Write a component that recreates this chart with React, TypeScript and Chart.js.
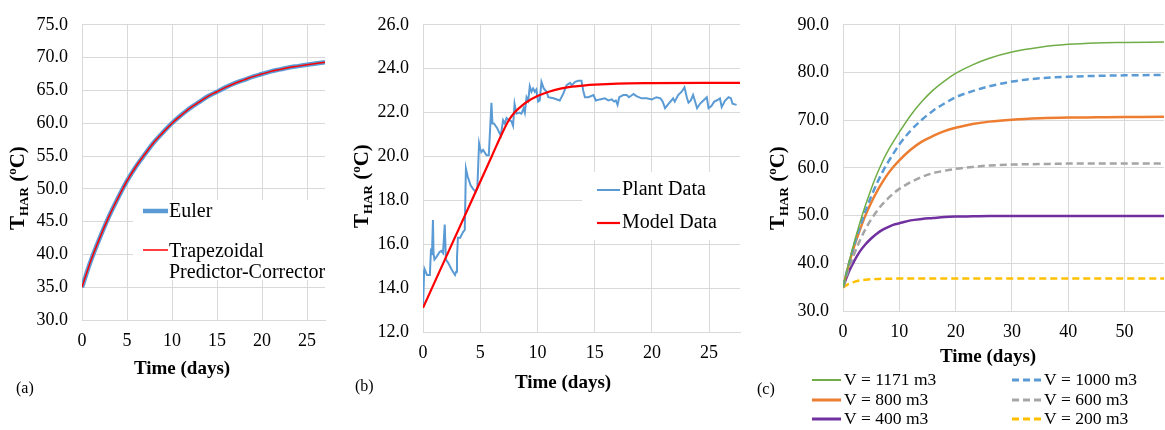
import React, { useEffect, useRef } from "react";
import { Chart, registerables } from "chart.js";

Chart.register(...registerables);

const FONT = '"Liberation Serif", "Times New Roman", Times, serif';
const GRID = "#D9D9D9";

// ---------- Panel (a) ----------
const timeA = [0, 1, 2, 3, 4, 5, 6, 7, 8, 9, 10, 11, 12, 13, 14, 15, 16, 17, 18, 19, 20, 21, 22, 23, 24, 25, 26, 27];
const eulerA = [35.0, 39.1, 42.6, 45.8, 48.6, 51.2, 53.4, 55.3, 57.1, 58.6, 60.0, 61.2, 62.3, 63.2, 64.1, 64.8, 65.5, 66.1, 66.6, 67.1, 67.5, 67.9, 68.2, 68.5, 68.7, 68.9, 69.1, 69.3];
const trapA = [35.0, 39.1, 42.6, 45.8, 48.6, 51.2, 53.4, 55.3, 57.1, 58.6, 60.0, 61.2, 62.3, 63.2, 64.1, 64.8, 65.5, 66.1, 66.6, 67.1, 67.5, 67.9, 68.2, 68.5, 68.7, 68.9, 69.1, 69.3];
const legendA = ["Euler", "Trapezoidal", "Predictor-Corrector"];

// ---------- Panel (b) ----------
const plantT = [
  0, 0.1, 0.15, 0.35, 0.6, 0.7, 0.78, 0.87, 0.92, 1.0,
  1.15, 1.45, 1.6, 1.75, 1.9, 2.0, 2.2, 2.5, 2.8, 2.9,
  2.97, 3.05, 3.25, 3.5, 3.65, 3.75, 3.9, 4.15, 4.4, 4.6,
  4.75, 4.9, 5.0, 5.1, 5.25, 5.55, 5.75, 5.98, 6.07, 6.2,
  6.47, 6.65, 6.8, 7.0, 7.15, 7.3, 7.52, 7.73, 7.87, 8.0,
  8.17, 8.4, 8.6, 8.8, 8.9, 9.05, 9.2, 9.33, 9.48, 9.62,
  9.77, 9.9, 10.06, 10.2, 10.35, 10.55, 10.8, 10.95, 11.4, 11.95,
  12.25, 12.55, 12.85, 13.0, 13.3, 13.55, 13.85, 14.0, 14.15, 14.45,
  14.9, 15.1, 15.45, 15.9, 16.2, 16.5, 16.7, 16.85, 17.0, 17.15,
  17.5, 17.8, 18.0, 18.4, 18.65, 19.1, 19.55, 20.0, 20.4, 20.75,
  20.95, 21.15, 21.45, 21.7, 21.85, 22.0, 22.3, 22.6, 22.85, 23.05,
  23.2, 23.4, 23.6, 23.75, 23.95, 24.2, 24.5, 24.8, 24.95, 25.2,
  25.45, 25.65, 25.95, 26.1, 26.4, 26.7, 26.9, 27.05, 27.4,
];
const plantV = [
  13.1, 14.8, 14.85, 14.6, 14.6, 15.8, 15.5, 17.1, 15.6, 15.3,
  15.4, 15.65, 15.7, 15.6, 16.9, 15.3, 15.15, 14.85, 14.6, 14.75,
  15.4, 16.3, 16.3, 16.55, 16.65, 19.45, 19.1, 18.7, 18.5, 18.4,
  18.6, 20.6, 20.35, 20.2, 20.3, 20.05, 20.05, 22.45, 21.5, 21.5,
  21.3, 21.1, 20.95, 21.65, 21.5, 21.75, 21.65, 21.6, 21.4, 22.4,
  21.95, 22.0, 21.95, 22.2, 22.0, 22.7, 22.55, 23.2, 22.95, 23.1,
  22.95, 23.05, 22.5, 22.55, 23.4, 23.1, 22.95, 22.7, 22.65, 22.55,
  22.85, 23.25, 23.35, 23.25, 23.4, 23.45, 23.45, 23.0, 22.7, 22.7,
  22.8, 22.55, 22.6, 22.65, 22.55, 22.6, 22.5, 22.55, 22.35, 22.7,
  22.8, 22.8, 22.7, 22.85, 22.75, 22.65, 22.65, 22.6, 22.7, 22.65,
  22.5, 22.2, 22.4, 22.55, 22.65, 22.5, 22.8, 22.95, 23.15, 22.7,
  22.45, 22.55, 22.8, 22.55, 22.2, 22.4, 22.55, 22.7, 22.2, 22.3,
  22.5, 22.55, 22.65, 22.25, 22.55, 22.7, 22.65, 22.4, 22.35,
];
const modelT = [0, 2, 4, 6, 7.0, 7.5, 8, 8.5, 9, 10, 11, 12, 13, 14, 15, 17, 20, 25, 27.7];
const modelV = [13.1, 15.4, 17.7, 20.0, 21.15, 21.65, 22.0, 22.25, 22.46, 22.75, 22.95, 23.09, 23.18, 23.23, 23.27, 23.32, 23.34, 23.35, 23.35];
const legendB = ["Plant Data", "Model Data"];

// ---------- Panel (c) ----------
const timeC = [0, 1, 2, 3, 4, 5, 6, 7, 8, 9, 10, 12, 14, 16, 18, 20, 23, 26, 30, 35, 40, 45, 50, 57];
const v1171 = [35.0, 39.9, 44.4, 48.5, 52.2, 55.6, 58.6, 61.3, 63.6, 65.6, 67.5, 71.0, 73.9, 76.3, 78.2, 79.8, 81.6, 83.0, 84.3, 85.3, 85.9, 86.2, 86.3, 86.4];
const v1000 = [35.0, 39.7, 43.9, 47.6, 51.0, 54.0, 56.7, 59.1, 61.2, 63.1, 64.9, 67.8, 70.1, 72.0, 73.5, 74.8, 76.1, 77.1, 78.1, 78.8, 79.1, 79.3, 79.4, 79.5];
const v800 = [35.0, 39.6, 43.6, 47.0, 50.1, 52.7, 55.0, 57.0, 58.8, 60.3, 61.6, 63.8, 65.5, 66.7, 67.7, 68.4, 69.2, 69.7, 70.1, 70.4, 70.55, 70.6, 70.65, 70.7];
const v600 = [35.0, 38.8, 42.0, 44.8, 47.2, 49.2, 50.9, 52.4, 53.6, 54.7, 55.6, 57.0, 58.1, 58.9, 59.4, 59.8, 60.2, 60.5, 60.7, 60.8, 60.9, 60.9, 60.9, 60.9];
const v400 = [35.0, 38.1, 40.5, 42.5, 44.0, 45.2, 46.2, 47.0, 47.6, 48.1, 48.4, 49.0, 49.3, 49.5, 49.7, 49.8, 49.85, 49.9, 49.9, 49.9, 49.9, 49.9, 49.9, 49.9];
const v200 = [34.9, 35.7, 36.1, 36.4, 36.55, 36.65, 36.7, 36.75, 36.77, 36.78, 36.8, 36.8, 36.8, 36.8, 36.8, 36.8, 36.8, 36.8, 36.8, 36.8, 36.8, 36.8, 36.8, 36.8];
const legendC = ["V = 1171 m3", "V = 1000 m3", "V = 800 m3", "V = 600 m3", "V = 400 m3", "V = 200 m3"];

const xTitle = "Time (days)";

// ---------- helpers ----------
const pts = (t: number[], v: number[]) => t.map((x, i) => ({ x, y: v[i] }));

type Pad = { left: number; right: number; top: number; bottom: number };
type Rng = { min: number; max: number; step: number };

function buildOptions(x: Rng, y: Rng, padding: Pad) {
  return {
    responsive: false,
    animation: false,
    devicePixelRatio: 1,
    layout: { padding },
    events: [],
    plugins: { legend: { display: false }, tooltip: { enabled: false } },
    elements: { point: { radius: 0 } },
    scales: {
      x: {
        type: "linear",
        min: x.min,
        max: x.max,
        ticks: {
          stepSize: x.step,
          includeBounds: false,
          autoSkip: false,
          maxRotation: 0,
          padding: 10,
          color: "#000",
          font: { family: FONT, size: 18 },
          callback: (v: number) => String(v),
        },
        grid: { color: GRID, drawTicks: false },
        border: { color: GRID },
        afterFit: (s: any) => {
          s.height = 40;
        },
      },
      y: {
        type: "linear",
        min: y.min,
        max: y.max,
        ticks: {
          stepSize: y.step,
          padding: 14,
          color: "#000",
          font: { family: FONT, size: 18 },
          callback: (v: number) => Number(v).toFixed(1),
        },
        grid: { color: GRID, drawTicks: false },
        border: { color: GRID },
        afterFit: (s: any) => {
          s.width = 70;
        },
      },
    },
  };
}

function drawYTitle(ctx: CanvasRenderingContext2D, xb: number, yBottom: number) {
  ctx.save();
  ctx.translate(xb, yBottom);
  ctx.rotate(-Math.PI / 2);
  ctx.fillStyle = "#000";
  ctx.textBaseline = "alphabetic";
  ctx.textAlign = "left";
  const big = `bold 21px ${FONT}`;
  const small = `bold 13px ${FONT}`;
  let x = 0;
  ctx.font = big;
  ctx.fillText("T", x, 0);
  x += ctx.measureText("T").width;
  ctx.font = small;
  ctx.fillText("HAR", x, 4);
  x += ctx.measureText("HAR").width;
  ctx.font = big;
  ctx.fillText(" (", x, 0);
  x += ctx.measureText(" (").width;
  ctx.font = small;
  ctx.fillText("o", x, -8);
  x += ctx.measureText("o").width;
  ctx.font = big;
  ctx.fillText("C)", x, 0);
  ctx.restore();
}

function text(ctx: CanvasRenderingContext2D, s: string, x: number, y: number, font: string, align: CanvasTextAlign = "left") {
  ctx.save();
  ctx.font = font;
  ctx.fillStyle = "#000";
  ctx.textAlign = align;
  ctx.textBaseline = "alphabetic";
  ctx.fillText(s, x, y);
  ctx.restore();
}

function legendLine(ctx: CanvasRenderingContext2D, x1: number, x2: number, y: number, color: string, width: number, dash: number[] = []) {
  ctx.save();
  ctx.strokeStyle = color;
  ctx.lineWidth = width;
  ctx.setLineDash(dash);
  ctx.beginPath();
  ctx.moveTo(x1, y);
  ctx.lineTo(x2, y);
  ctx.stroke();
  ctx.restore();
}

const BLUE = "#5B9BD5";
const RED = "#FF0000";
const DASH = [7, 4];

function makeA(): any {
  return {
    type: "line",
    data: {
      datasets: [
        { data: pts(timeA, trapA), borderColor: RED, borderWidth: 1.5, cubicInterpolationMode: "monotone", order: 0 },
        { data: pts(timeA, eulerA), borderColor: BLUE, borderWidth: 4.5, cubicInterpolationMode: "monotone", order: 1 },
      ],
    },
    options: buildOptions({ min: 0, max: 27, step: 5 }, { min: 30, max: 75, step: 5 }, { left: 12, right: 840, top: 19, bottom: 70 }),
    plugins: [
      {
        id: "decorA",
        afterDraw(chart: any) {
          const ctx = chart.ctx as CanvasRenderingContext2D;
          ctx.save();
          ctx.fillStyle = "#fff";
          ctx.fillRect(133, 200, 197, 80);
          ctx.restore();
          legendLine(ctx, 143, 168, 211, BLUE, 4.5);
          legendLine(ctx, 143, 168, 250, RED, 1.5);
          const f = `20px ${FONT}`;
          text(ctx, legendA[0], 169, 217, f);
          text(ctx, legendA[1], 169, 257, f);
          text(ctx, legendA[2], 169, 278, f);
          drawYTitle(ctx, 24, 230);
          text(ctx, xTitle, 182, 374, `bold 19px ${FONT}`, "center");
          text(ctx, "(a)", 16, 393, `16px ${FONT}`);
        },
      },
    ],
  };
}

function makeB(): any {
  return {
    type: "line",
    data: {
      datasets: [
        { data: pts(modelT, modelV), borderColor: RED, borderWidth: 2.2, cubicInterpolationMode: "monotone", order: 0 },
        { data: pts(plantT, plantV), borderColor: BLUE, borderWidth: 2, tension: 0, order: 1 },
      ],
    },
    options: buildOptions({ min: 0, max: 27.7, step: 5 }, { min: 12, max: 26, step: 2 }, { left: 353, right: 425, top: 24, bottom: 58 }),
    plugins: [
      {
        id: "decorB",
        afterDraw(chart: any) {
          const ctx = chart.ctx as CanvasRenderingContext2D;
          ctx.save();
          ctx.fillStyle = "#fff";
          ctx.fillRect(582, 172, 158, 68);
          ctx.restore();
          legendLine(ctx, 597, 620, 190, BLUE, 2);
          legendLine(ctx, 597, 620, 223, RED, 2.2);
          const f = `20px ${FONT}`;
          text(ctx, legendB[0], 622, 195, f);
          text(ctx, legendB[1], 622, 228, f);
          drawYTitle(ctx, 368, 228);
          text(ctx, xTitle, 563, 388, `bold 19px ${FONT}`, "center");
          text(ctx, "(b)", 355, 391, `16px ${FONT}`);
        },
      },
    ],
  };
}

const colorsC = ["#70AD47", "#5B9BD5", "#ED7D31", "#A5A5A5", "#7030A0", "#FFC000"];
const widthsC = [1.5, 2.5, 2.5, 2.5, 2.5, 2.5];
const dashC = [false, true, false, true, false, true];

function makeC(): any {
  const series = [v1171, v1000, v800, v600, v400, v200];
  return {
    type: "line",
    data: {
      datasets: series.map((s, i) => ({
        data: pts(timeC, s),
        borderColor: colorsC[i],
        borderWidth: widthsC[i],
        borderDash: dashC[i] ? DASH : [],
        cubicInterpolationMode: "monotone",
      })),
    },
    options: buildOptions({ min: 0, max: 57, step: 10 }, { min: 30, max: 90, step: 10 }, { left: 773, right: 1, top: 15, bottom: 79 }),
    plugins: [
      {
        id: "decorC",
        afterDraw(chart: any) {
          const ctx = chart.ctx as CanvasRenderingContext2D;
          const rows = [380, 400, 419];
          const f = `17.5px ${FONT}`;
          for (let i = 0; i < 6; i++) {
            const col = i % 2;
            const row = Math.floor(i / 2);
            const lx = col === 0 ? 812 : 1012;
            const y = rows[row];
            legendLine(ctx, lx, lx + 29, y, colorsC[i], widthsC[i] + 0.5, dashC[i] ? DASH : []);
            text(ctx, legendC[i], lx + 32, y + 5, f);
          }
          drawYTitle(ctx, 784, 230);
          text(ctx, xTitle, 988, 362, `bold 19px ${FONT}`, "center");
          text(ctx, "(c)", 757, 394, `16px ${FONT}`);
        },
      },
    ],
  };
}

export default function App() {
  const refA = useRef<HTMLCanvasElement>(null);
  const refB = useRef<HTMLCanvasElement>(null);
  const refC = useRef<HTMLCanvasElement>(null);

  useEffect(() => {
    const charts = [
      new Chart(refA.current as HTMLCanvasElement, makeA()),
      new Chart(refB.current as HTMLCanvasElement, makeB()),
      new Chart(refC.current as HTMLCanvasElement, makeC()),
    ];
    return () => charts.forEach((c) => c.destroy());
  }, []);

  const cs: React.CSSProperties = { position: "absolute", left: 0, top: 0, width: 1165, height: 430 };
  return (
    <div style={{ position: "absolute", left: 0, top: 0, width: 1165, height: 430, background: "#fff", overflow: "hidden" }}>
      <canvas ref={refA} width={1165} height={430} style={cs} />
      <canvas ref={refB} width={1165} height={430} style={cs} />
      <canvas ref={refC} width={1165} height={430} style={cs} />
    </div>
  );
}
